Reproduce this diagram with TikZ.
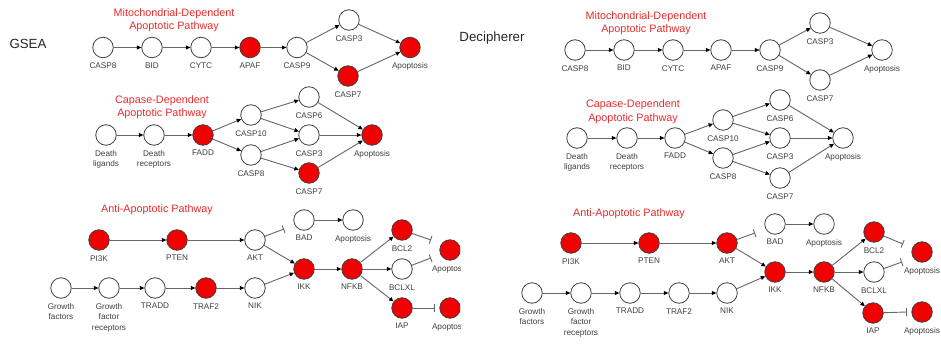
\documentclass[tikz,border=0pt]{standalone}
\usepackage{fontspec}
\setmainfont{Liberation Sans}
\usetikzlibrary{arrows.meta}
\definecolor{titlered}{RGB}{232,45,45}
\definecolor{nodered}{RGB}{240,0,0}
\tikzset{
  gn/.style={circle, draw=black!75, line width=0.8pt, minimum size=20.5pt, inner sep=0pt, fill=white},
  rn/.style={gn, fill=nodered},
  lab/.style={font=\fontsize{8.2}{10.5}\selectfont, text=black!75, inner sep=0pt, align=center},
  ttl/.style={font=\fontsize{10.8}{12.5}\selectfont, text=titlered, align=center, inner sep=0pt},
  hdr/.style={font=\fontsize{13.3}{15}\selectfont, text=black!85, inner sep=0pt},
  act/.style={draw=black!60, line width=0.9pt, -{Triangle[length=4.5pt,width=4pt,color=black]}},
  inh/.style={draw=black!60, line width=0.9pt, -{Bar[width=8pt]}},
}
\begin{document}
\begin{tikzpicture}[x=1pt, y=-1pt, label distance=4.5pt]
\useasboundingbox (0,0) rectangle (941,345);
\fill[white] (0,0) rectangle (941,345);
% ================= LEFT PANEL (GSEA) =================
\begin{scope}
\clip (0,0) rectangle (460,345);
\node[hdr] (Lhdr) at (28,44) {GSEA};
% --- row 1
\node[ttl] (Lti1) at (174,20) {Mitochondrial-Dependent\\Apoptotic Pathway};
\node[gn,label={[lab]below:CASP8}] (La1) at (103,47.5) {};
\node[gn,label={[lab]below:BID}] (La2) at (152,47.5) {};
\node[gn,label={[lab]below:CYTC}] (La3) at (201,47.5) {};
\node[rn,label={[lab]below:APAF}] (La4) at (250,47.5) {};
\node[gn,label={[lab]below:CASP9}] (La5) at (297,47.5) {};
\node[gn,label={[lab]below:CASP3}] (La6) at (349,20) {};
\node[rn,label={[lab]below:CASP7}] (La7) at (348,76) {};
\node[rn,label={[lab]below:Apoptosis}] (La8) at (410,47.5) {};
\draw[act] (La1) -- (La2);
\draw[act] (La2) -- (La3);
\draw[act] (La3) -- (La4);
\draw[act] (La4) -- (La5);
\draw[act] (La5) -- (La6);
\draw[act] (La5) -- (La7);
\draw[act] (La6) -- (La8);
\draw[act] (La7) -- (La8);
% --- row 2
\node[ttl] (Lti2) at (162,107) {Capase-Dependent\\Apoptotic Pathway};
\node[gn,label={[lab]below:Death\\ligands}] (Lb1) at (106,135) {};
\node[gn,label={[lab]below:Death\\receptors}] (Lb2) at (154,135) {};
\node[rn,label={[lab]below:FADD}] (Lb3) at (203,135) {};
\node[gn,label={[lab]below:CASP10}] (Lb4) at (251,115) {};
\node[gn,label={[lab]below:CASP8}] (Lb5) at (251,155) {};
\node[gn,label={[lab]below:CASP6}] (Lb6) at (309,97) {};
\node[gn,label={[lab]below:CASP3}] (Lb7) at (309,135) {};
\node[rn,label={[lab]below:CASP7}] (Lb8) at (309,173) {};
\node[rn,label={[lab]below:Apoptosis}] (Lb9) at (372,135) {};
\draw[act] (Lb1) -- (Lb2);
\draw[act] (Lb2) -- (Lb3);
\draw[act] (Lb3) -- (Lb4);
\draw[act] (Lb3) -- (Lb5);
\draw[act] (Lb4) -- (Lb6);
\draw[act] (Lb4) -- (Lb7);
\draw[act] (Lb5) -- (Lb7);
\draw[act] (Lb5) -- (Lb8);
\draw[act] (Lb6) -- (Lb9);
\draw[act] (Lb7) -- (Lb9);
\draw[act] (Lb8) -- (Lb9);
% --- row 3
\node[ttl] (Lti3) at (157,210) {Anti-Apoptotic Pathway};
\node[rn,label={[lab]below:PI3K}] (Lc1) at (99,240) {};
\node[rn,label={[lab]below:PTEN}] (Lc2) at (177,240) {};
\node[gn,label={[lab]below:AKT}] (Lc3) at (255,240) {};
\node[gn,label={[lab]below:BAD}] (Lc4) at (304,220) {};
\node[gn,label={[lab]below:Apoptosis}] (Lc5) at (353,220) {};
\node[rn,label={[lab]below:IKK}] (Lc6) at (304,269) {};
\node[rn,label={[lab]below:NFKB}] (Lc7) at (352,269) {};
\node[rn,label={[lab]below:BCL2}] (Lc8) at (402,230) {};
\node[gn,label={[lab]below:BCLXL}] (Lc9) at (402,269) {};
\node[rn,label={[lab]below:IAP}] (Lc10) at (402,308) {};
\node[rn,label={[lab]below:Apoptosis}] (Lc11) at (450,250) {};
\node[rn,label={[lab]below:Apoptosis}] (Lc12) at (450,308) {};
\node[gn,label={[lab]below:Growth\\factors}] (Ld1) at (61,288) {};
\node[gn,label={[lab]below:Growth\\factor\\receptors}] (Ld2) at (109,288) {};
\node[gn,label={[lab]below:TRADD}] (Ld3) at (155,288) {};
\node[rn,label={[lab]below:TRAF2}] (Ld4) at (206,288) {};
\node[gn,label={[lab]below:NIK}] (Ld5) at (255,288) {};
\coordinate (Le1) at (284,229);
\coordinate (Le2) at (431,240);
\coordinate (Le3) at (431,258);
\coordinate (Le4) at (435,308);
\draw[act] (Lc1) -- (Lc2);
\draw[act] (Lc2) -- (Lc3);
\draw[inh] (Lc3) -- (Le1);
\draw[act] (Lc3) -- (Lc6);
\draw[act] (Lc4) -- (Lc5);
\draw[act] (Ld1) -- (Ld2);
\draw[act] (Ld2) -- (Ld3);
\draw[act] (Ld3) -- (Ld4);
\draw[act] (Ld4) -- (Ld5);
\draw[act] (Ld5) -- (Lc6);
\draw[act] (Lc6) -- (Lc7);
\draw[act] (Lc7) -- (Lc8);
\draw[act] (Lc7) -- (Lc9);
\draw[act] (Lc7) -- (Lc10);
\draw[inh] (Lc8) -- (Le2);
\draw[inh] (Lc9) -- (Le3);
\draw[inh] (Lc10) -- (Le4);
\end{scope}
% ================= RIGHT PANEL (Decipherer) =================
\node[hdr] (Rhdr) at (492,38) {Decipherer};
% --- row 1
\node[ttl, font=\fontsize{10.8}{13.5}\selectfont] (Rti1) at (646,23) {Mitochondrial-Dependent\\Apoptotic Pathway};
\node[gn,label={[lab]below:CASP8}] (Ra1) at (575,50) {};
\node[gn,label={[lab]below:BID}] (Ra2) at (624,50) {};
\node[gn,label={[lab]below:CYTC}] (Ra3) at (673,50) {};
\node[gn,label={[lab]below:APAF}] (Ra4) at (721,50) {};
\node[gn,label={[lab]below:CASP9}] (Ra5) at (770,50) {};
\node[gn,label={[lab]below:CASP3}] (Ra6) at (820,23) {};
\node[gn,label={[lab]below:CASP7}] (Ra7) at (820,80) {};
\node[gn,label={[lab]below:Apoptosis}] (Ra8) at (882,50) {};
\draw[act] (Ra1) -- (Ra2);
\draw[act] (Ra2) -- (Ra3);
\draw[act] (Ra3) -- (Ra4);
\draw[act] (Ra4) -- (Ra5);
\draw[act] (Ra5) -- (Ra6);
\draw[act] (Ra5) -- (Ra7);
\draw[act] (Ra6) -- (Ra8);
\draw[act] (Ra7) -- (Ra8);
% --- row 2
\node[ttl, font=\fontsize{10.8}{13.5}\selectfont] (Rti2) at (633,111.5) {Capase-Dependent\\Apoptotic Pathway};
\node[gn,label={[lab]below:Death\\ligands}] (Rb1) at (577,138) {};
\node[gn,label={[lab]below:Death\\receptors}] (Rb2) at (627,138) {};
\node[gn,label={[lab]below:FADD}] (Rb3) at (675,138) {};
\node[gn,label={[lab]below:CASP10}] (Rb4) at (723,120) {};
\node[gn,label={[lab]below:CASP8}] (Rb5) at (723,158) {};
\node[gn,label={[lab]below:CASP6}] (Rb6) at (780,100) {};
\node[gn,label={[lab]below:CASP3}] (Rb7) at (780,138) {};
\node[gn,label={[lab]below:CASP7}] (Rb8) at (780,178) {};
\node[gn,label={[lab]below:Apoptosis}] (Rb9) at (843,138) {};
\draw[act] (Rb1) -- (Rb2);
\draw[act] (Rb2) -- (Rb3);
\draw[act] (Rb3) -- (Rb4);
\draw[act] (Rb3) -- (Rb5);
\draw[act] (Rb4) -- (Rb6);
\draw[act] (Rb4) -- (Rb7);
\draw[act] (Rb5) -- (Rb7);
\draw[act] (Rb5) -- (Rb8);
\draw[act] (Rb6) -- (Rb9);
\draw[act] (Rb7) -- (Rb9);
\draw[act] (Rb8) -- (Rb9);
% --- row 3
\node[ttl] (Rti3) at (629,214) {Anti-Apoptotic Pathway};
\node[rn,label={[lab]below:PI3K}] (Rc1) at (571,243) {};
\node[rn,label={[lab]below:PTEN}] (Rc2) at (649,243) {};
\node[rn,label={[lab]below:AKT}] (Rc3) at (727,243) {};
\node[gn,label={[lab]below:BAD}] (Rc4) at (775,224) {};
\node[gn,label={[lab]below:Apoptosis}] (Rc5) at (824,224) {};
\node[rn,label={[lab]below:IKK}] (Rc6) at (775,272) {};
\node[rn,label={[lab]below:NFKB}] (Rc7) at (824,272) {};
\node[rn,label={[lab]below:BCL2}] (Rc8) at (874,232) {};
\node[gn,label={[lab]below:BCLXL}] (Rc9) at (874,272) {};
\node[rn,label={[lab]below:IAP}] (Rc10) at (873,313) {};
\node[rn,label={[lab]below:Apoptosis}] (Rc11) at (922,252) {};
\node[rn,label={[lab]below:Apoptosis}] (Rc12) at (922,312) {};
\node[gn,label={[lab]below:Growth\\factors}] (Rd1) at (532,293) {};
\node[gn,label={[lab]below:Growth\\factor\\receptors}] (Rd2) at (581,293) {};
\node[gn,label={[lab]below:TRADD}] (Rd3) at (630,293) {};
\node[gn,label={[lab]below:TRAF2}] (Rd4) at (679,293) {};
\node[gn,label={[lab]below:NIK}] (Rd5) at (727,293) {};
\coordinate (Re1) at (755,233);
\coordinate (Re2) at (903,244);
\coordinate (Re3) at (902,262);
\coordinate (Re4) at (907,312);
\draw[act] (Rc1) -- (Rc2);
\draw[act] (Rc2) -- (Rc3);
\draw[inh] (Rc3) -- (Re1);
\draw[act] (Rc3) -- (Rc6);
\draw[act] (Rc4) -- (Rc5);
\draw[act] (Rd1) -- (Rd2);
\draw[act] (Rd2) -- (Rd3);
\draw[act] (Rd3) -- (Rd4);
\draw[act] (Rd4) -- (Rd5);
\draw[act] (Rd5) -- (Rc6);
\draw[act] (Rc6) -- (Rc7);
\draw[act] (Rc7) -- (Rc8);
\draw[act] (Rc7) -- (Rc9);
\draw[act] (Rc7) -- (Rc10);
\draw[inh] (Rc8) -- (Re2);
\draw[inh] (Rc9) -- (Re3);
\draw[inh] (Rc10) -- (Re4);
\end{tikzpicture}
\end{document}
